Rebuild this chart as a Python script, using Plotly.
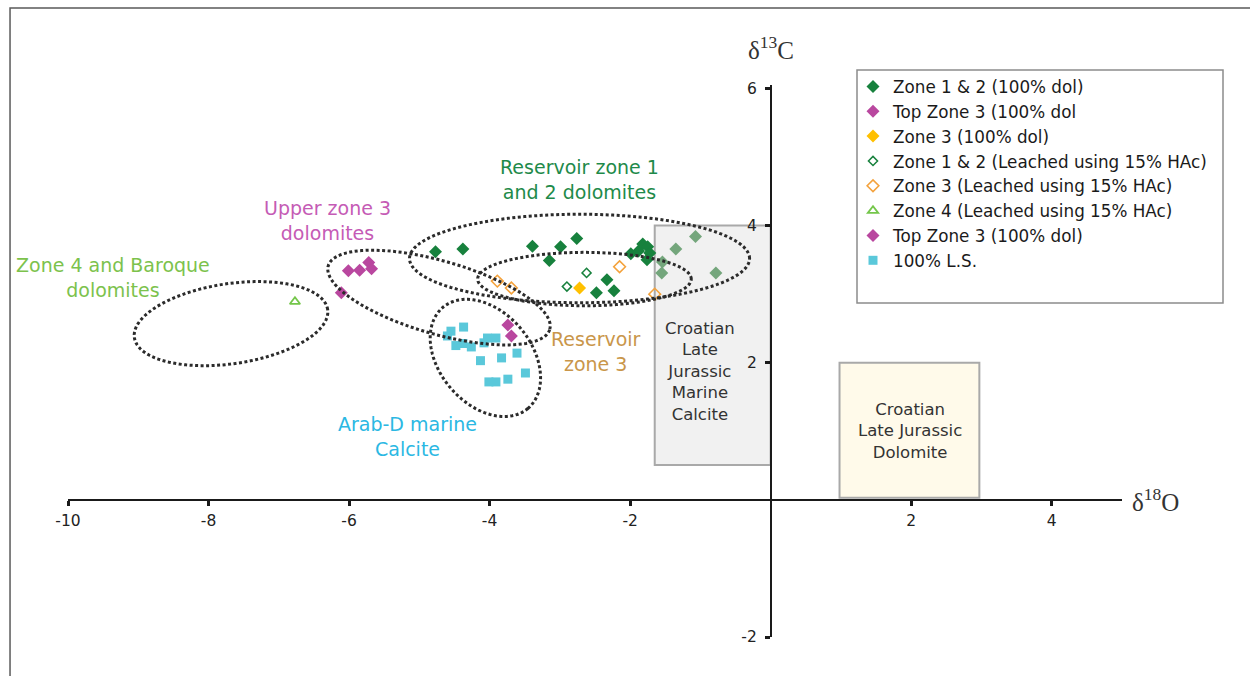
import numpy as np
import plotly.graph_objects as go

# ---- isotope data (d18O, d13C) ----
zone12_dol_x = [-4.77, -4.38, -3.39, -2.99, -2.76, -3.15, -2.33, -2.48, -2.23, -1.99, -1.88, -1.82, -1.75, -1.72, -1.76]
zone12_dol_y = [3.62, 3.66, 3.70, 3.69, 3.81, 3.49, 3.21, 3.02, 3.05, 3.59, 3.63, 3.73, 3.69, 3.60, 3.50]
# zone 1 & 2 samples that sit behind the Croatian calcite field
zone12_dol_box_x = [-1.07, -1.35, -1.54, -1.55, -0.78]
zone12_dol_box_y = [3.84, 3.66, 3.47, 3.31, 3.31]

top_zone3_a_x = [-6.01, -5.85, -5.72, -5.68, -6.11]
top_zone3_a_y = [3.34, 3.35, 3.46, 3.37, 3.02]
top_zone3_b_x = [-3.74, -3.69]
top_zone3_b_y = [2.55, 2.39]

zone3_dol_x = [-2.72]
zone3_dol_y = [3.09]

zone12_leach_x = [-2.62, -2.90]
zone12_leach_y = [3.31, 3.11]

zone3_leach_x = [-3.89, -3.69, -2.15, -1.65]
zone3_leach_y = [3.19, 3.09, 3.40, 3.00]

zone4_leach_x = [-6.77]
zone4_leach_y = [2.89]

ls_x = [-4.55, -4.37, -4.60, -4.48, -4.38, -4.26, -4.08, -4.03, -3.91, -4.13, -3.83, -3.61, -4.01, -3.91, -3.74, -3.49]
ls_y = [2.46, 2.52, 2.39, 2.25, 2.28, 2.23, 2.29, 2.36, 2.36, 2.03, 2.07, 2.14, 1.72, 1.72, 1.76, 1.85]

x_ticks = [-10, -8, -6, -4, -2, 2, 4]
x_tick_text = ["-10", "-8", "-6", "-4", "-2", "2", "4"]
y_ticks = [-2, 2, 4, 6]
y_tick_text = ["-2", "2", "4", "6"]

# ---- layout geometry ----
W, H = 1250, 676
ML, MR, MT, MB = 68, 128, 85, 39
X_RANGE = [-10, 5]
Y_RANGE = [-2, 6.05]
plot_w = W - ML - MR
plot_h = H - MT - MB
px_x = plot_w / (X_RANGE[1] - X_RANGE[0])
px_y = plot_h / (Y_RANGE[1] - Y_RANGE[0])

FONT = "DejaVu Sans, Verdana, sans-serif"
SERIF = "Liberation Serif, Times New Roman, serif"

DKGREEN = "#17813d"
MAGENTA = "#b9479f"
YELLOW = "#ffc000"
ORANGE = "#f4a23c"
LTGREEN = "#74c64a"
CYAN = "#5ac8da"


def ellipse_path(cx, cy, a, b, angle_deg, n=120):
    """Rotated ellipse as an SVG path in data coordinates (a, b in x-units)."""
    t = np.linspace(0, 2 * np.pi, n)
    th = np.radians(angle_deg)
    u = a * np.cos(t) * np.cos(th) - b * np.sin(t) * np.sin(th)
    v = a * np.cos(t) * np.sin(th) + b * np.sin(t) * np.cos(th)
    xs = cx + u
    ys = cy + v * px_x / px_y
    pts = [f"{x:.4f},{y:.4f}" for x, y in zip(xs, ys)]
    return "M " + " L ".join(pts) + " Z"


fig = go.Figure()


def add_pts(x, y, name, symbol, color, size, open_=False, show=True, lw=1.6):
    marker = dict(symbol=symbol, size=size, color=color,
                  line=dict(color=color, width=lw if open_ else 0))
    fig.add_trace(go.Scatter(x=x, y=y, mode="markers", name=name, marker=marker,
                             showlegend=show, hoverinfo="x+y+name"))


add_pts(zone12_dol_x, zone12_dol_y, "Zone 1 & 2 (100% dol)", "diamond", DKGREEN, 10)
add_pts(top_zone3_a_x, top_zone3_a_y, "Top Zone 3 (100% dol", "diamond", MAGENTA, 10)
add_pts(zone3_dol_x, zone3_dol_y, "Zone 3 (100% dol)", "diamond", YELLOW, 10)
add_pts(zone12_leach_x, zone12_leach_y, "Zone 1 & 2 (Leached using 15% HAc)", "diamond-open", DKGREEN, 7, True, lw=1.5)
add_pts(zone3_leach_x, zone3_leach_y, "Zone 3 (Leached using 15% HAc)", "diamond-open", ORANGE, 9, True, lw=1.6)
add_pts(zone4_leach_x, zone4_leach_y, "Zone 4 (Leached using 15% HAc)", "triangle-up-open", LTGREEN, 9, True, lw=1.8)
add_pts(top_zone3_b_x, top_zone3_b_y, "Top Zone 3 (100% dol)", "diamond", MAGENTA, 10)
add_pts(ls_x, ls_y, "100% L.S.", "square", CYAN, 9)
add_pts(zone12_dol_box_x, zone12_dol_box_y, "Zone 1 & 2 (100% dol)", "diamond", "#74a67c", 10, show=False)

shapes = []
# reference fields
shapes.append(dict(type="rect", xref="x", yref="y", x0=-1.65, x1=0, y0=0.51, y1=4.0,
                   fillcolor="#f1f1f1", line=dict(color="#a9a9a9", width=2), layer="below"))
shapes.append(dict(type="rect", xref="x", yref="y", x0=0.98, x1=2.97, y0=0.03, y1=2.0,
                   fillcolor="#fffaea", line=dict(color="#a9a9a9", width=2), layer="below"))

# dotted sample groupings
ellipses = [
    (-7.68, 2.57, 1.39, 0.57, 8.3),     # zone 4 / baroque
    (-4.72, 2.95, 1.64, 0.52, -16.0),   # upper zone 3
    (-2.72, 3.52, 2.42, 0.63, 0.0),     # reservoir zones 1 & 2
    (-2.65, 3.22, 1.52, 0.38, 0.0),     # reservoir zone 3
    (-4.06, 2.07, 0.94, 0.655, -50.0),  # Arab-D calcite
]
for cx, cy, a, b, ang in ellipses:
    shapes.append(dict(type="path", xref="x", yref="y", path=ellipse_path(cx, cy, a, b, ang),
                       line=dict(color="#2b2b2b", width=3, dash="3px,2.5px"),
                       fillcolor="rgba(0,0,0,0)", layer="above"))


def to_paper_x(px):
    return (px - ML) / plot_w


def to_paper_y(py):
    return (H - MB - py) / plot_h


# legend frame
shapes.append(dict(type="rect", xref="paper", yref="paper",
                   x0=to_paper_x(857), x1=to_paper_x(1223), y0=to_paper_y(303), y1=to_paper_y(70),
                   line=dict(color="#8c8c8c", width=1.5), fillcolor="white", layer="below"))
# outer frame (top and left edges)
shapes.append(dict(type="path", xref="paper", yref="paper",
                   path=f"M {to_paper_x(10):.4f},{to_paper_y(700):.4f} L {to_paper_x(10):.4f},{to_paper_y(8):.4f} L {to_paper_x(1260):.4f},{to_paper_y(8):.4f}",
                   line=dict(color="#5a5a5a", width=1.5)))

annotations = []


def label(x, y, text, color, size=19):
    annotations.append(dict(x=x, y=y, xref="x", yref="y", text=text, showarrow=False,
                            font=dict(family=FONT, size=size, color=color), align="center"))


label(-2.72, 4.67, "Reservoir zone 1<br>and 2 dolomites", "#1e8a4a")
label(-6.30, 4.08, "Upper zone 3<br>dolomites", "#c55bb5")
label(-9.36, 3.25, "Zone 4 and Baroque<br>dolomites", "#7cc24c")
label(-2.49, 2.17, "Reservoir<br>zone 3", "#c9964a")
label(-5.17, 0.92, "Arab-D marine<br>Calcite", "#2bb8e3")
label(-1.01, 1.87, "Croatian<br>Late<br>Jurassic<br>Marine<br>Calcite", "#333333", 16.5)
label(1.98, 1.01, "Croatian<br>Late Jurassic<br>Dolomite", "#333333", 16.5)

# axis titles
annotations.append(dict(x=0, y=1.0, xref="x", yref="paper", yshift=55, text="δ<sup>13</sup>C",
                        showarrow=False, font=dict(family=SERIF, size=25, color="#333333")))
annotations.append(dict(x=1.0, y=0, xref="paper", yref="y", xshift=59, text="δ<sup>18</sup>O",
                        showarrow=False, font=dict(family=SERIF, size=25, color="#333333")))

axis_common = dict(showgrid=False, zeroline=False, showline=True, linecolor="#1a1a1a",
                   linewidth=1.5, ticks="outside", ticklen=5, tickwidth=2.5, tickcolor="#1a1a1a",
                   tickfont=dict(family=FONT, size=15.5, color="#222222"), fixedrange=True)

fig.update_layout(
    width=W, height=H,
    margin=dict(l=ML, r=MR, t=MT, b=MB, pad=0),
    paper_bgcolor="white", plot_bgcolor="white",
    xaxis=dict(range=X_RANGE, tickvals=x_ticks, ticktext=x_tick_text, anchor="free",
               ticklabelstandoff=2,
               position=(0 - Y_RANGE[0]) / (Y_RANGE[1] - Y_RANGE[0]), **axis_common),
    yaxis=dict(range=Y_RANGE, tickvals=y_ticks, ticktext=y_tick_text, anchor="free",
               ticklabelstandoff=5,
               position=(0 - X_RANGE[0]) / (X_RANGE[1] - X_RANGE[0]), **axis_common),
    shapes=shapes,
    annotations=annotations,
    showlegend=True,
    legend=dict(x=to_paper_x(853), y=to_paper_y(69), xanchor="left", yanchor="top",
                bgcolor="rgba(0,0,0,0)", borderwidth=0, tracegroupgap=0,
                font=dict(family=FONT, size=16.8, color="#1a1a1a"), itemclick=False,
                itemdoubleclick=False),
)

fig.write_html("out.html")
